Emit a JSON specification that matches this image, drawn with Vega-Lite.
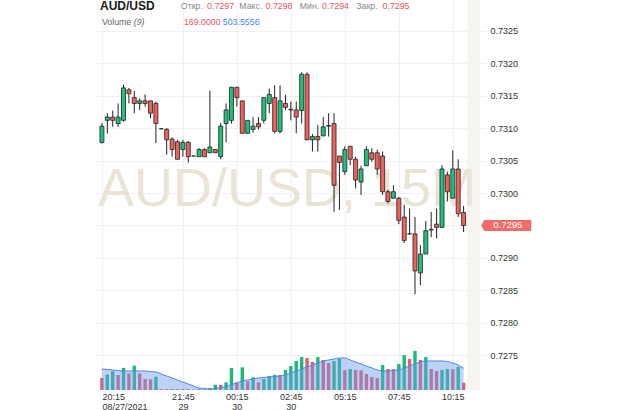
{
  "$schema": "https://vega.github.io/schema/vega-lite/v6.json",
  "width": 391,
  "height": 390,
  "autosize": {"type": "none"},
  "padding": {"left": 94, "top": 0, "right": 135, "bottom": 20},
  "config": {"view": {"stroke": null}, "font": "Liberation Sans", "text": {"font": "Liberation Sans"}},
  "datasets": {
    "one": [{}],
    "candles": [
      {"i":0,"o":0.73078,"h":0.73108,"l":0.73076,"c":0.73103,"v":280,"vd":"down","ma":489},
      {"i":1,"o":0.73112,"h":0.73123,"l":0.73092,"c":0.73117,"v":356,"vd":"up","ma":478},
      {"i":2,"o":0.73117,"h":0.73127,"l":0.73102,"c":0.73112,"v":436,"vd":"up","ma":466},
      {"i":3,"o":0.73107,"h":0.73138,"l":0.73102,"c":0.73117,"v":350,"vd":"down","ma":454},
      {"i":4,"o":0.73112,"h":0.73167,"l":0.7311,"c":0.73162,"v":513,"vd":"up","ma":443},
      {"i":5,"o":0.73159,"h":0.73162,"l":0.73138,"c":0.73153,"v":389,"vd":"down","ma":443},
      {"i":6,"o":0.73147,"h":0.73157,"l":0.73123,"c":0.73138,"v":566,"vd":"up","ma":443},
      {"i":7,"o":0.73138,"h":0.73146,"l":0.73128,"c":0.73142,"v":385,"vd":"down","ma":443},
      {"i":8,"o":0.73142,"h":0.73152,"l":0.73133,"c":0.73138,"v":256,"vd":"down","ma":443},
      {"i":9,"o":0.73142,"h":0.73142,"l":0.73115,"c":0.73123,"v":250,"vd":"down","ma":431},
      {"i":10,"o":0.73138,"h":0.73141,"l":0.73077,"c":0.73107,"v":310,"vd":"up","ma":419},
      {"i":11,"o":0.73099,"h":0.731,"l":0.73098,"c":0.73099,"v":23,"vd":"down","ma":373},
      {"i":12,"o":0.73098,"h":0.731,"l":0.73059,"c":0.73082,"v":19,"vd":"down","ma":326},
      {"i":13,"o":0.73083,"h":0.73086,"l":0.73056,"c":0.73067,"v":23,"vd":"up","ma":280},
      {"i":14,"o":0.73079,"h":0.73082,"l":0.73052,"c":0.73052,"v":19,"vd":"down","ma":233},
      {"i":15,"o":0.73067,"h":0.73082,"l":0.73056,"c":0.73078,"v":23,"vd":"up","ma":186},
      {"i":16,"o":0.73078,"h":0.7308,"l":0.73047,"c":0.73056,"v":19,"vd":"down","ma":140},
      {"i":17,"o":0.73057,"h":0.73057,"l":0.73057,"c":0.73057,"v":12,"vd":"down","ma":93},
      {"i":18,"o":0.73056,"h":0.73069,"l":0.73056,"c":0.73067,"v":23,"vd":"up","ma":47},
      {"i":19,"o":0.73067,"h":0.73069,"l":0.73056,"c":0.73056,"v":19,"vd":"down","ma":35},
      {"i":20,"o":0.73062,"h":0.73158,"l":0.73062,"c":0.73071,"v":47,"vd":"up","ma":23},
      {"i":21,"o":0.73067,"h":0.73067,"l":0.73062,"c":0.73062,"v":123,"vd":"up","ma":35},
      {"i":22,"o":0.73056,"h":0.73108,"l":0.73052,"c":0.73103,"v":120,"vd":"down","ma":58},
      {"i":23,"o":0.73107,"h":0.73138,"l":0.73078,"c":0.73128,"v":179,"vd":"up","ma":82},
      {"i":24,"o":0.73112,"h":0.73163,"l":0.73107,"c":0.73163,"v":513,"vd":"up","ma":128},
      {"i":25,"o":0.73163,"h":0.73163,"l":0.73133,"c":0.73147,"v":179,"vd":"down","ma":163},
      {"i":26,"o":0.73142,"h":0.73142,"l":0.73092,"c":0.73092,"v":529,"vd":"up","ma":210},
      {"i":27,"o":0.73092,"h":0.73112,"l":0.73092,"c":0.73112,"v":203,"vd":"down","ma":233},
      {"i":28,"o":0.73098,"h":0.73117,"l":0.73093,"c":0.73103,"v":296,"vd":"up","ma":256},
      {"i":29,"o":0.73107,"h":0.73117,"l":0.73098,"c":0.73102,"v":179,"vd":"down","ma":280},
      {"i":30,"o":0.73112,"h":0.73147,"l":0.73107,"c":0.73147,"v":256,"vd":"up","ma":291},
      {"i":31,"o":0.73138,"h":0.73161,"l":0.73123,"c":0.73152,"v":326,"vd":"up","ma":303},
      {"i":32,"o":0.73147,"h":0.73166,"l":0.73092,"c":0.73095,"v":356,"vd":"up","ma":315},
      {"i":33,"o":0.73095,"h":0.73166,"l":0.73092,"c":0.73142,"v":350,"vd":"down","ma":326},
      {"i":34,"o":0.73138,"h":0.73151,"l":0.73128,"c":0.73132,"v":466,"vd":"up","ma":350},
      {"i":35,"o":0.73128,"h":0.73141,"l":0.73112,"c":0.73129,"v":559,"vd":"up","ma":396},
      {"i":36,"o":0.73128,"h":0.73141,"l":0.73092,"c":0.73117,"v":676,"vd":"up","ma":443},
      {"i":37,"o":0.73127,"h":0.73186,"l":0.73107,"c":0.73183,"v":769,"vd":"up","ma":489},
      {"i":38,"o":0.73183,"h":0.73186,"l":0.73082,"c":0.73082,"v":746,"vd":"down","ma":536},
      {"i":39,"o":0.73082,"h":0.73091,"l":0.73064,"c":0.73087,"v":652,"vd":"down","ma":583},
      {"i":40,"o":0.73087,"h":0.73105,"l":0.73064,"c":0.73082,"v":769,"vd":"up","ma":629},
      {"i":41,"o":0.73088,"h":0.73117,"l":0.73088,"c":0.73102,"v":699,"vd":"down","ma":676},
      {"i":42,"o":0.73103,"h":0.73123,"l":0.73087,"c":0.73104,"v":629,"vd":"down","ma":699},
      {"i":43,"o":0.73107,"h":0.73123,"l":0.72971,"c":0.73012,"v":676,"vd":"up","ma":722},
      {"i":44,"o":0.73057,"h":0.73057,"l":0.72974,"c":0.73047,"v":722,"vd":"up","ma":746},
      {"i":45,"o":0.73033,"h":0.73072,"l":0.73028,"c":0.73067,"v":466,"vd":"down","ma":746},
      {"i":46,"o":0.73072,"h":0.73072,"l":0.73043,"c":0.73052,"v":489,"vd":"up","ma":699},
      {"i":47,"o":0.73052,"h":0.73056,"l":0.73007,"c":0.7302,"v":466,"vd":"down","ma":652},
      {"i":48,"o":0.73017,"h":0.73042,"l":0.72997,"c":0.73037,"v":460,"vd":"down","ma":606},
      {"i":49,"o":0.73042,"h":0.73072,"l":0.73042,"c":0.73067,"v":373,"vd":"down","ma":559},
      {"i":50,"o":0.73062,"h":0.73069,"l":0.73048,"c":0.73052,"v":303,"vd":"down","ma":513},
      {"i":51,"o":0.73062,"h":0.73067,"l":0.73028,"c":0.73037,"v":280,"vd":"down","ma":466},
      {"i":52,"o":0.73057,"h":0.73064,"l":0.72997,"c":0.73002,"v":583,"vd":"up","ma":443},
      {"i":53,"o":0.73002,"h":0.73005,"l":0.72984,"c":0.72987,"v":489,"vd":"down","ma":443},
      {"i":54,"o":0.72992,"h":0.73012,"l":0.72992,"c":0.73002,"v":485,"vd":"down","ma":454},
      {"i":55,"o":0.72992,"h":0.72994,"l":0.72952,"c":0.72958,"v":606,"vd":"up","ma":466},
      {"i":56,"o":0.72963,"h":0.72982,"l":0.72923,"c":0.72927,"v":816,"vd":"up","ma":513},
      {"i":57,"o":0.72937,"h":0.72976,"l":0.72936,"c":0.72937,"v":722,"vd":"down","ma":559},
      {"i":58,"o":0.72937,"h":0.72963,"l":0.72844,"c":0.7288,"v":909,"vd":"up","ma":606},
      {"i":59,"o":0.72877,"h":0.7292,"l":0.72858,"c":0.72906,"v":699,"vd":"down","ma":652},
      {"i":60,"o":0.72906,"h":0.72957,"l":0.72906,"c":0.72942,"v":769,"vd":"up","ma":676},
      {"i":61,"o":0.72943,"h":0.72971,"l":0.72932,"c":0.72944,"v":489,"vd":"down","ma":676},
      {"i":62,"o":0.72952,"h":0.72976,"l":0.7293,"c":0.72947,"v":443,"vd":"down","ma":676},
      {"i":63,"o":0.72947,"h":0.73043,"l":0.72947,"c":0.73037,"v":466,"vd":"up","ma":676},
      {"i":64,"o":0.73028,"h":0.73033,"l":0.72987,"c":0.73002,"v":489,"vd":"up","ma":664},
      {"i":65,"o":0.72992,"h":0.73066,"l":0.72992,"c":0.73037,"v":485,"vd":"down","ma":629},
      {"i":66,"o":0.73037,"h":0.73052,"l":0.72963,"c":0.72968,"v":536,"vd":"up","ma":583},
      {"i":67,"o":0.7297,"h":0.7298,"l":0.7294,"c":0.7295,"v":169,"vd":"down","ma":503.5556}
    ]
  },
  "layer": [
    {
      "data": {"name": "candles"},
      "layer": [
        {
          "mark": {"type": "bar", "width": 3.4},
          "encoding": {
            "x": {"field": "i", "type": "quantitative", "scale": {"domain": [-0.54, 70.04], "nice": false, "zero": false},
              "axis": {"values": [0, 15, 25, 35, 45, 55, 65], "tickCount": 20, "title": null, "grid": true, "gridColor": "#f1f1f1", "domain": false, "ticks": false, "labelPadding": 2, "labelFontSize": 9, "labelColor": "#333", "labelBaseline": "top", "labelLineHeight": 10, "labelOverlap": false,
                "labelAlign": {"condition": {"test": "datum.value == 0", "value": "left"}, "value": "center"},
                "labelExpr": "datum.value == 0 ? ['20:15', '08/27/2021'] : datum.value == 15 ? ['21:45', '29'] : datum.value == 25 ? ['00:15', '30'] : datum.value == 35 ? ['02:45', '30'] : datum.value == 45 ? '05:15' : datum.value == 55 ? '07:45' : '10:15'"}},
            "y": {"field": "v", "type": "quantitative", "scale": {"domain": [0, 9087], "nice": false}, "axis": null},
            "color": {"field": "vd", "type": "nominal", "scale": {"domain": ["up", "down"], "range": ["#1fb87a", "#e0606a"]}, "legend": null}
          }
        },
        {
          "mark": {"type": "area", "color": "#6f9cf0", "opacity": 0.45, "interpolate": "monotone"},
          "encoding": {
            "x": {"field": "i", "type": "quantitative"},
            "y": {"field": "ma", "type": "quantitative", "scale": {"domain": [0, 9087], "nice": false}, "axis": null}
          }
        },
        {
          "mark": {"type": "line", "color": "#4a86e8", "strokeWidth": 1, "interpolate": "monotone"},
          "encoding": {
            "x": {"field": "i", "type": "quantitative"},
            "y": {"field": "ma", "type": "quantitative", "scale": {"domain": [0, 9087], "nice": false}, "axis": null}
          }
        }
      ]
    },
    {
      "layer": [
        {
          "data": {"name": "one"},
          "mark": {"type": "rect", "color": "#f6f4ef"},
          "encoding": {
            "x": {"datum": 67.7, "type": "quantitative"},
            "x2": {"datum": 70.04},
            "y": {"datum": 0.726965, "type": "quantitative"},
            "y2": {"datum": 0.732974}
          }
        },
        {
          "data": {"name": "one"},
          "mark": {"type": "text", "fontSize": 54, "color": "#e9e4d6", "align": "center", "baseline": "middle"},
          "encoding": {
            "x": {"datum": 34.3, "type": "quantitative"},
            "y": {"datum": 0.73005, "type": "quantitative", "scale": {"domain": [0.726965, 0.732974], "nice": false, "zero": false},
              "axis": {"orient": "right", "values": [0.7275, 0.728, 0.7285, 0.729, 0.7295, 0.73, 0.7305, 0.731, 0.7315, 0.732, 0.7325], "tickCount": 30, "title": null, "grid": true, "gridColor": "#f1f1f1", "domain": false, "ticks": false, "labelPadding": 5, "labelFontSize": 9, "labelColor": "#333", "labelOverlap": false, "labelExpr": "datum.value == 0.7295 ? '' : format(datum.value, '.4f')"}},
            "text": {"value": "AUD/USD, 15M"}
          }
        },
        {
          "data": {"name": "candles"},
          "mark": {"type": "rule", "color": "#222", "strokeWidth": 1},
          "encoding": {
            "x": {"field": "i", "type": "quantitative"},
            "y": {"field": "l", "type": "quantitative"},
            "y2": {"field": "h"}
          }
        },
        {
          "data": {"name": "candles"},
          "mark": {"type": "bar", "width": 4, "stroke": "#222", "strokeWidth": 0.8},
          "encoding": {
            "x": {"field": "i", "type": "quantitative"},
            "y": {"field": "o", "type": "quantitative"},
            "y2": {"field": "c"},
            "color": {"condition": {"test": "datum.c >= datum.o", "value": "#1ec27c"}, "value": "#f0615c"}
          }
        },
        {
          "data": {"name": "one"},
          "mark": {"type": "point", "shape": "M-1,0 L-0.88,-0.22 L1,-0.22 L1,0.22 L-0.88,0.22 Z", "size": 2500, "filled": true, "color": "#f26b66", "opacity": 1},
          "encoding": {
            "x": {"datum": 74.9, "type": "quantitative"},
            "y": {"datum": 0.7295, "type": "quantitative"}
          }
        },
        {
          "data": {"name": "one"},
          "mark": {"type": "text", "fontSize": 9.5, "color": "#ffffff", "align": "center", "baseline": "middle"},
          "encoding": {"x": {"datum": 75.2, "type": "quantitative"}, "y": {"datum": 0.7295, "type": "quantitative"}, "text": {"value": "0.7295"}}
        },
        {
          "data": {"name": "one"},
          "mark": {"type": "text", "fontSize": 12, "fontWeight": "bold", "color": "#1a1a1a", "align": "left", "baseline": "middle"},
          "encoding": {"x": {"datum": -0.36, "type": "quantitative"}, "y": {"datum": 0.732881, "type": "quantitative"}, "text": {"value": "AUD/USD"}}
        },
        {
          "data": {"name": "one"},
          "mark": {"type": "text", "fontSize": 8.8, "color": "#888", "align": "left", "baseline": "middle"},
          "encoding": {"x": {"datum": 14.62, "type": "quantitative"}, "y": {"datum": 0.732881, "type": "quantitative"}, "text": {"value": "Откр."}}
        },
        {
          "data": {"name": "one"},
          "mark": {"type": "text", "fontSize": 8.8, "color": "#e5575c", "align": "left", "baseline": "middle"},
          "encoding": {"x": {"datum": 19.49, "type": "quantitative"}, "y": {"datum": 0.732881, "type": "quantitative"}, "text": {"value": "0.7297"}}
        },
        {
          "data": {"name": "one"},
          "mark": {"type": "text", "fontSize": 8.8, "color": "#888", "align": "left", "baseline": "middle"},
          "encoding": {"x": {"datum": 25.45, "type": "quantitative"}, "y": {"datum": 0.732881, "type": "quantitative"}, "text": {"value": "Макс."}}
        },
        {
          "data": {"name": "one"},
          "mark": {"type": "text", "fontSize": 8.8, "color": "#e5575c", "align": "left", "baseline": "middle"},
          "encoding": {"x": {"datum": 30.32, "type": "quantitative"}, "y": {"datum": 0.732881, "type": "quantitative"}, "text": {"value": "0.7298"}}
        },
        {
          "data": {"name": "one"},
          "mark": {"type": "text", "fontSize": 8.8, "color": "#888", "align": "left", "baseline": "middle"},
          "encoding": {"x": {"datum": 36.64, "type": "quantitative"}, "y": {"datum": 0.732881, "type": "quantitative"}, "text": {"value": "Мин."}}
        },
        {
          "data": {"name": "one"},
          "mark": {"type": "text", "fontSize": 8.8, "color": "#e5575c", "align": "left", "baseline": "middle"},
          "encoding": {"x": {"datum": 40.79, "type": "quantitative"}, "y": {"datum": 0.732881, "type": "quantitative"}, "text": {"value": "0.7294"}}
        },
        {
          "data": {"name": "one"},
          "mark": {"type": "text", "fontSize": 8.8, "color": "#888", "align": "left", "baseline": "middle"},
          "encoding": {"x": {"datum": 47.11, "type": "quantitative"}, "y": {"datum": 0.732881, "type": "quantitative"}, "text": {"value": "Закр."}}
        },
        {
          "data": {"name": "one"},
          "mark": {"type": "text", "fontSize": 8.8, "color": "#e5575c", "align": "left", "baseline": "middle"},
          "encoding": {"x": {"datum": 51.99, "type": "quantitative"}, "y": {"datum": 0.732881, "type": "quantitative"}, "text": {"value": "0.7295"}}
        },
        {
          "data": {"name": "one"},
          "mark": {"type": "text", "fontSize": 8.8, "color": "#666", "align": "left", "baseline": "middle"},
          "encoding": {"x": {"datum": 0, "type": "quantitative"}, "y": {"datum": 0.732635, "type": "quantitative"}, "text": {"value": "Volume"}}
        },
        {
          "data": {"name": "one"},
          "mark": {"type": "text", "fontSize": 8.8, "fontStyle": "italic", "color": "#666", "align": "left", "baseline": "middle"},
          "encoding": {"x": {"datum": 5.9, "type": "quantitative"}, "y": {"datum": 0.732635, "type": "quantitative"}, "text": {"value": "(9)"}}
        },
        {
          "data": {"name": "one"},
          "mark": {"type": "text", "fontSize": 8.8, "color": "#e5575c", "align": "left", "baseline": "middle"},
          "encoding": {"x": {"datum": 15.2, "type": "quantitative"}, "y": {"datum": 0.732635, "type": "quantitative"}, "text": {"value": "169.0000"}}
        },
        {
          "data": {"name": "one"},
          "mark": {"type": "text", "fontSize": 8.8, "color": "#4a86e8", "align": "left", "baseline": "middle"},
          "encoding": {"x": {"datum": 22.4, "type": "quantitative"}, "y": {"datum": 0.732635, "type": "quantitative"}, "text": {"value": "503.5556"}}
        }
      ]
    }
  ],
  "resolve": {"scale": {"y": "independent"}}
}
